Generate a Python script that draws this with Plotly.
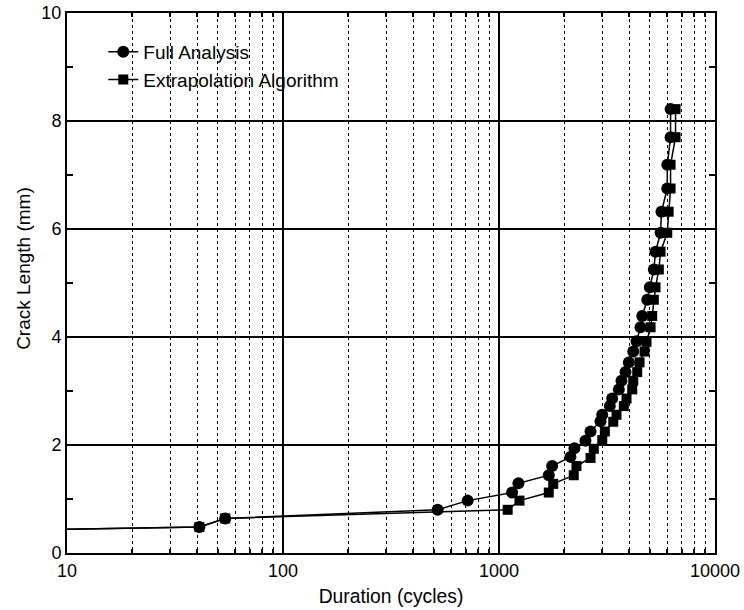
import plotly.graph_objects as go

# Data
full_cycles = [1, 41, 54, 520, 716, 1150, 1230, 1700, 1762, 2142, 2235, 2513, 2653, 2951, 3006,
               3258, 3342, 3587, 3690, 3853, 3991, 4183, 4333, 4520, 4603, 4856, 4993, 5210, 5305,
               5598, 5650, 6012, 6012, 6227, 6227]
full_crack = [0.375, 0.48, 0.64, 0.80, 0.97, 1.12, 1.29, 1.44, 1.61, 1.78, 1.94, 2.08, 2.25, 2.44, 2.56,
              2.72, 2.86, 3.03, 3.19, 3.35, 3.53, 3.73, 3.92, 4.18, 4.39, 4.69, 4.92, 5.25, 5.58,
              5.93, 6.32, 6.75, 7.19, 7.70, 8.22]

extrap_cycles = [1, 41, 54, 1097, 1244, 1700, 1782, 2219, 2284, 2653, 2748, 3006, 3090, 3380, 3500,
                 3784, 3894, 4138, 4183, 4364, 4474, 4718, 4819, 5032, 5120, 5210, 5305, 5496, 5598,
                 6012, 6100, 6227, 6227, 6566, 6566]
extrap_crack = [0.375, 0.48, 0.64, 0.80, 0.97, 1.12, 1.28, 1.44, 1.61, 1.76, 1.93, 2.09, 2.25, 2.43, 2.56,
                2.72, 2.86, 3.03, 3.19, 3.35, 3.53, 3.73, 3.91, 4.18, 4.39, 4.69, 4.92, 5.25, 5.58,
                5.93, 6.32, 6.75, 7.19, 7.70, 8.22]

x_tickvals = [10, 100, 1000, 10000]
x_ticktext = ["10", "100", "1000", "10000"]
y_tickvals = [0, 2, 4, 6, 8, 10]

FONT = "Liberation Sans, Arial, Helvetica, sans-serif"

fig = go.Figure()
fig.add_trace(go.Scatter(
    x=full_cycles, y=full_crack, mode="lines+markers", name="Full Analysis",
    line=dict(color="black", width=1.5),
    marker=dict(symbol="circle", size=12, color="black"),
    cliponaxis=True,
))
fig.add_trace(go.Scatter(
    x=extrap_cycles, y=extrap_crack, mode="lines+markers", name="Extrapolation Algorithm",
    line=dict(color="black", width=1.5),
    marker=dict(symbol="square", size=10, color="black"),
    cliponaxis=True,
))

fig.update_layout(
    width=744, height=610,
    margin=dict(l=67, r=29, t=13, b=57, autoexpand=False),
    paper_bgcolor="white", plot_bgcolor="white",
    font=dict(family=FONT, size=18, color="black"),
    showlegend=True,
    legend=dict(x=0.056, y=0.963, xanchor="left", yanchor="top",
                bgcolor="rgba(0,0,0,0)", borderwidth=0,
                font=dict(family=FONT, size=19, color="black"),
                tracegroupgap=0, itemsizing="trace"),
    xaxis=dict(
        type="log", range=[1, 4], automargin=False,
        tickvals=x_tickvals, ticktext=x_ticktext,
        showline=True, linecolor="black", linewidth=2, mirror="allticks",
        ticks="inside", ticklen=8, tickcolor="black", tickwidth=1.5,
        showgrid=True, gridcolor="black", gridwidth=1.5,
        zeroline=False,
        minor=dict(dtick="D1", showgrid=True, gridcolor="black", gridwidth=1,
                   griddash="3px,3px", ticks="inside", ticklen=4, tickcolor="black"),
        title=dict(text="Duration (cycles)", font=dict(family=FONT, size=19.3), standoff=10),
        tickfont=dict(family=FONT, size=18),
    ),
    yaxis=dict(
        range=[0, 10], automargin=False,
        tickvals=y_tickvals,
        showline=True, linecolor="black", linewidth=2, mirror="allticks",
        ticks="inside", ticklen=8, tickcolor="black", tickwidth=1.5,
        showgrid=True, gridcolor="black", gridwidth=1.5,
        zeroline=False,
        minor=dict(dtick=1, showgrid=False, ticks="inside", ticklen=6, tickcolor="black"),
        tickfont=dict(family=FONT, size=18),
    ),
    annotations=[dict(
        text="Crack Length (mm)", textangle=-90,
        xref="paper", yref="paper", x=-0.0664, y=0.528,
        xanchor="center", yanchor="middle", showarrow=False,
        font=dict(family=FONT, size=19, color="black"),
    )],
)

fig.write_html("out.html")
